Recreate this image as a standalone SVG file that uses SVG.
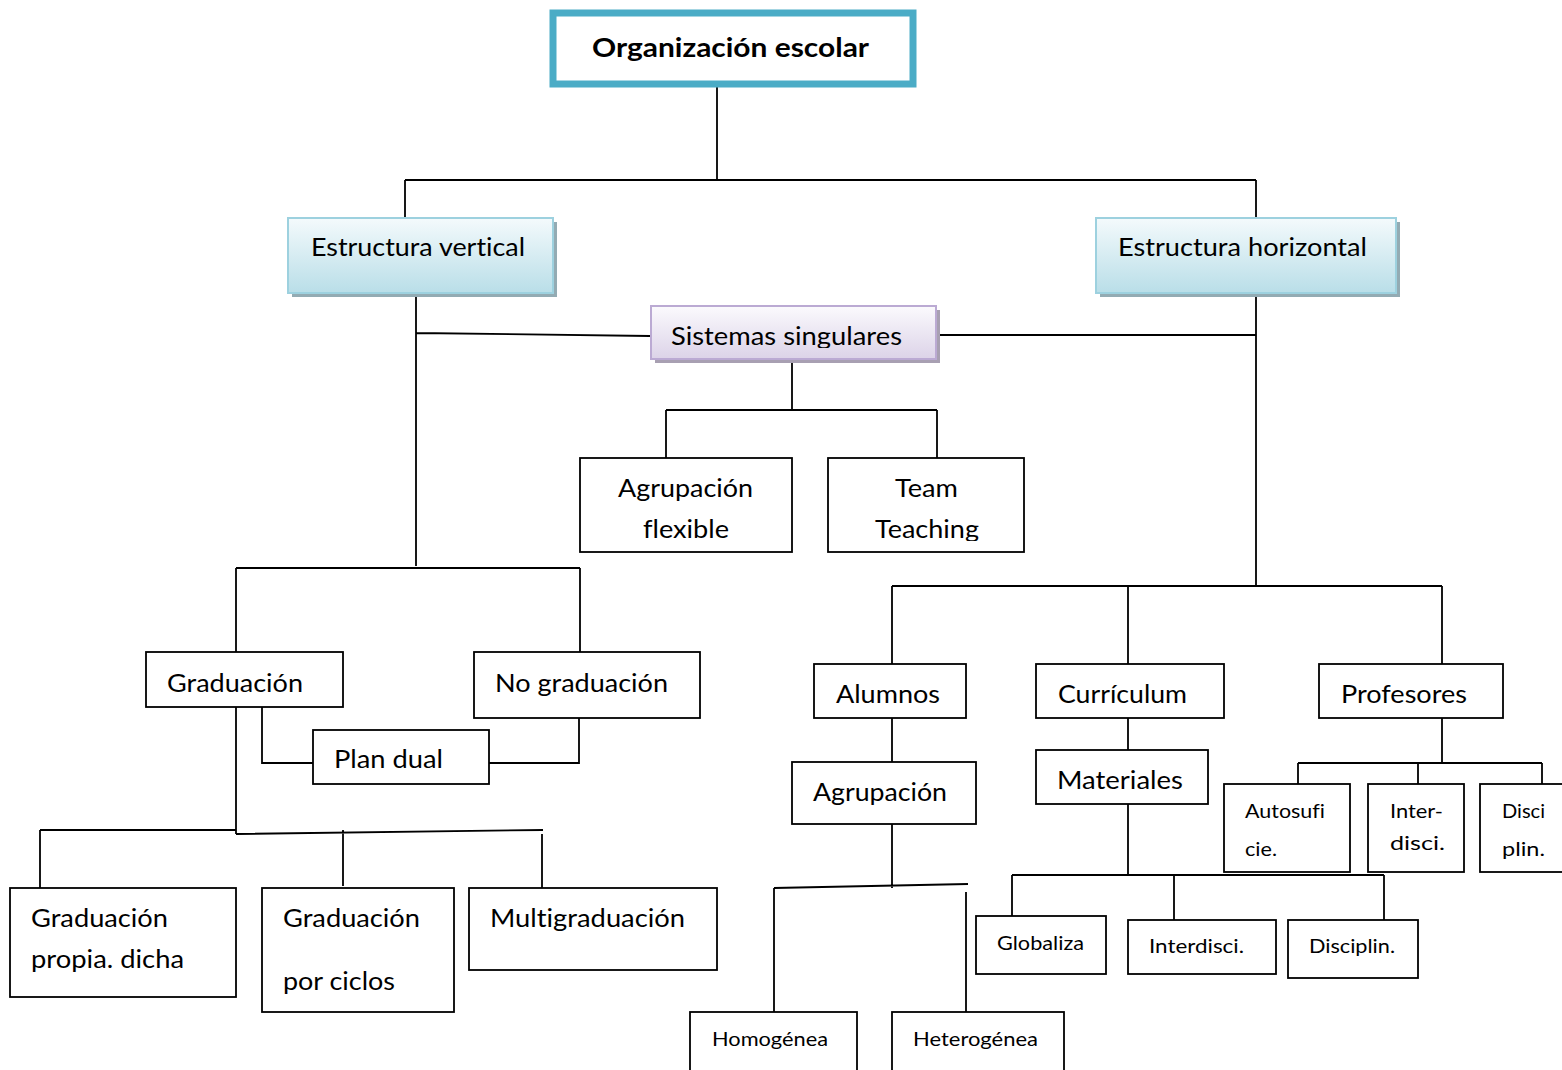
<svg xmlns="http://www.w3.org/2000/svg" width="1562" height="1070" viewBox="0 0 1562 1070">
  <defs>
    <linearGradient id="blueFill" x1="0" y1="0" x2="0" y2="1">
      <stop offset="0" stop-color="#F4FAFC"/>
      <stop offset="1" stop-color="#B9DEE8"/>
    </linearGradient>
    <linearGradient id="purpleFill" x1="0" y1="0" x2="0" y2="1">
      <stop offset="0" stop-color="#FBFAFD"/>
      <stop offset="1" stop-color="#DCD3E8"/>
    </linearGradient>
    <clipPath id="clipSistemas"><rect x="650" y="300" width="290" height="48"/></clipPath>
    <clipPath id="clipTeaching"><rect x="828" y="458" width="196" height="83"/></clipPath>
  </defs>
  <style>
    text { font-family: Lato, "Open Sans", "DejaVu Sans", sans-serif; fill: #000; font-variant-ligatures: none; }
    .lbl { font-size: 25px; }
    .sm { font-size: 20px; }
    .title { font-size: 27px; font-weight: bold; }
    .box { fill: #fff; stroke: #000; stroke-width: 1.8; }
    .link { fill: none; stroke: #000; stroke-width: 1.8; }
    .shadowB { fill: #93ABB3; }
    .shadowP { fill: #A8A0B2; }
  </style>
  <rect width="1562" height="1070" fill="#fff"/>

  <!-- connectors -->
  <g id="connectors">
    <path class="link" d="M717 87 V180 M405 180 H1256 M405 180 V218 M1256 180 V218"/>
    <path class="link" d="M416 293 V566 M416 333 L650 336"/>
    <path class="link" d="M1256 293 V586 M937 335 H1256"/>
    <path class="link" d="M792 363 V410 M666 410 H937 M666 410 V458 M937 410 V458"/>
    <path class="link" d="M236 568 H580 M236 568 V652 M580 568 V652"/>
    <path class="link" d="M262 707 V763 H313 M579 718 V763 H489"/>
    <path class="link" d="M236 707 V834 M40 830 H236 M236 834 L543 830 M40 830 V888 M343 830 V886 M542 834 V888"/>
    <path class="link" d="M892 586 H1442 M892 586 V664 M1128 586 V664 M1442 586 V664"/>
    <path class="link" d="M892 718 V762 M892 824 V888 M774 888 L968 884 M774 888 V1012 M966 892 V1012"/>
    <path class="link" d="M1128 713 V750 M1128 804 V875 M1012 875 H1384 M1012 875 V916 M1174 875 V920 M1384 875 V920"/>
    <path class="link" d="M1442 718 V763 M1298 763 H1542 M1298 763 V784 M1418 763 V784 M1542 763 V784"/>
  </g>

  <!-- root -->
  <g id="node-organizacion">
    <rect x="553" y="13" width="360" height="71" fill="#fff" stroke="#4BACC6" stroke-width="7"/>
    <text class="title" x="592" y="57" textLength="277" lengthAdjust="spacingAndGlyphs">Organización escolar</text>
  </g>

  <g id="node-estructura-vertical">
    <rect class="shadowB" x="292" y="222" width="265" height="75"/>
    <rect x="288" y="218" width="265" height="75" fill="url(#blueFill)" stroke="#9DD1DF" stroke-width="2"/>
    <text class="lbl" x="311" y="256" textLength="214" lengthAdjust="spacingAndGlyphs">Estructura vertical</text>
  </g>

  <g id="node-estructura-horizontal">
    <rect class="shadowB" x="1100" y="222" width="300" height="75"/>
    <rect x="1096" y="218" width="300" height="75" fill="url(#blueFill)" stroke="#9DD1DF" stroke-width="2"/>
    <text class="lbl" x="1118" y="256" textLength="249" lengthAdjust="spacingAndGlyphs">Estructura horizontal</text>
  </g>

  <g id="node-sistemas-singulares">
    <rect class="shadowP" x="655" y="310" width="285" height="53"/>
    <rect x="651" y="306" width="285" height="53" fill="url(#purpleFill)" stroke="#BBAAD3" stroke-width="2"/>
    <text class="lbl" x="671" y="345" textLength="231" lengthAdjust="spacingAndGlyphs" clip-path="url(#clipSistemas)">Sistemas singulares</text>
  </g>

  <g id="node-agrupacion-flexible">
    <rect class="box" x="580" y="458" width="212" height="94"/>
    <text class="lbl" x="618" y="497" textLength="135" lengthAdjust="spacingAndGlyphs">Agrupación</text>
    <text class="lbl" x="643" y="538" textLength="86" lengthAdjust="spacingAndGlyphs">flexible</text>
  </g>

  <g id="node-team-teaching">
    <rect class="box" x="828" y="458" width="196" height="94"/>
    <text class="lbl" x="895" y="497" textLength="63" lengthAdjust="spacingAndGlyphs">Team</text>
    <text class="lbl" x="875" y="538" textLength="104" lengthAdjust="spacingAndGlyphs" clip-path="url(#clipTeaching)">Teaching</text>
  </g>

  <!-- vertical structure branch -->
  <g id="node-graduacion">
    <rect class="box" x="146" y="652" width="197" height="55"/>
    <text class="lbl" x="167" y="692" textLength="136" lengthAdjust="spacingAndGlyphs">Graduación</text>
  </g>

  <g id="node-no-graduacion">
    <rect class="box" x="474" y="652" width="226" height="66"/>
    <text class="lbl" x="495" y="692" textLength="173" lengthAdjust="spacingAndGlyphs">No graduación</text>
  </g>

  <g id="node-plan-dual">
    <rect class="box" x="313" y="730" width="176" height="54"/>
    <text class="lbl" x="334" y="768" textLength="109" lengthAdjust="spacingAndGlyphs">Plan dual</text>
  </g>

  <g id="node-graduacion-propia">
    <rect class="box" x="10" y="888" width="226" height="109"/>
    <text class="lbl" x="31" y="927" textLength="137" lengthAdjust="spacingAndGlyphs">Graduación</text>
    <text class="lbl" x="31" y="968" textLength="153" lengthAdjust="spacingAndGlyphs">propia. dicha</text>
  </g>

  <g id="node-graduacion-ciclos">
    <rect class="box" x="262" y="888" width="192" height="124"/>
    <text class="lbl" x="283" y="927" textLength="137" lengthAdjust="spacingAndGlyphs">Graduación</text>
    <text class="lbl" x="283" y="990" textLength="112" lengthAdjust="spacingAndGlyphs">por ciclos</text>
  </g>

  <g id="node-multigraduacion">
    <rect class="box" x="469" y="888" width="248" height="82"/>
    <text class="lbl" x="490" y="927" textLength="195" lengthAdjust="spacingAndGlyphs">Multigraduación</text>
  </g>

  <!-- horizontal structure branch -->
  <g id="node-alumnos">
    <rect class="box" x="814" y="664" width="152" height="54"/>
    <text class="lbl" x="836" y="703" textLength="104" lengthAdjust="spacingAndGlyphs">Alumnos</text>
  </g>

  <g id="node-curriculum">
    <rect class="box" x="1036" y="664" width="188" height="54"/>
    <text class="lbl" x="1058" y="703" textLength="129" lengthAdjust="spacingAndGlyphs">Currículum</text>
  </g>

  <g id="node-profesores">
    <rect class="box" x="1319" y="664" width="184" height="54"/>
    <text class="lbl" x="1341" y="703" textLength="126" lengthAdjust="spacingAndGlyphs">Profesores</text>
  </g>

  <g id="node-agrupacion">
    <rect class="box" x="792" y="762" width="184" height="62"/>
    <text class="lbl" x="813" y="801" textLength="134" lengthAdjust="spacingAndGlyphs">Agrupación</text>
  </g>

  <g id="node-materiales">
    <rect class="box" x="1036" y="750" width="172" height="54"/>
    <text class="lbl" x="1057" y="789" textLength="126" lengthAdjust="spacingAndGlyphs">Materiales</text>
  </g>

  <g id="node-homogenea">
    <rect class="box" x="690" y="1012" width="167" height="70"/>
    <text class="sm" x="712" y="1046" textLength="116" lengthAdjust="spacingAndGlyphs">Homogénea</text>
  </g>

  <g id="node-heterogenea">
    <rect class="box" x="892" y="1012" width="172" height="70"/>
    <text class="sm" x="913" y="1046" textLength="125" lengthAdjust="spacingAndGlyphs">Heterogénea</text>
  </g>

  <g id="node-globaliza">
    <rect class="box" x="976" y="916" width="130" height="58"/>
    <text class="sm" x="997" y="950" textLength="87" lengthAdjust="spacingAndGlyphs">Globaliza</text>
  </g>

  <g id="node-interdisci">
    <rect class="box" x="1128" y="920" width="148" height="54"/>
    <text class="sm" x="1149" y="953" textLength="95" lengthAdjust="spacingAndGlyphs">Interdisci.</text>
  </g>

  <g id="node-disciplin">
    <rect class="box" x="1288" y="920" width="130" height="58"/>
    <text class="sm" x="1309" y="953" textLength="86" lengthAdjust="spacingAndGlyphs">Disciplin.</text>
  </g>

  <g id="node-autosuficie">
    <rect class="box" x="1224" y="784" width="126" height="88"/>
    <text class="sm" x="1245" y="818" textLength="80" lengthAdjust="spacingAndGlyphs">Autosufi</text>
    <text class="sm" x="1245" y="856" textLength="32" lengthAdjust="spacingAndGlyphs">cie.</text>
  </g>

  <g id="node-inter-disci">
    <rect class="box" x="1368" y="784" width="96" height="88"/>
    <text class="sm" x="1390" y="818" textLength="53" lengthAdjust="spacingAndGlyphs">Inter-</text>
    <text class="sm" x="1390" y="850" textLength="55" lengthAdjust="spacingAndGlyphs">disci.</text>
  </g>

  <g id="node-disci-plin">
    <rect class="box" x="1480" y="784" width="100" height="88"/>
    <text class="sm" x="1502" y="818" textLength="43" lengthAdjust="spacingAndGlyphs">Disci</text>
    <text class="sm" x="1502" y="856" textLength="43" lengthAdjust="spacingAndGlyphs">plin.</text>
  </g>
</svg>
